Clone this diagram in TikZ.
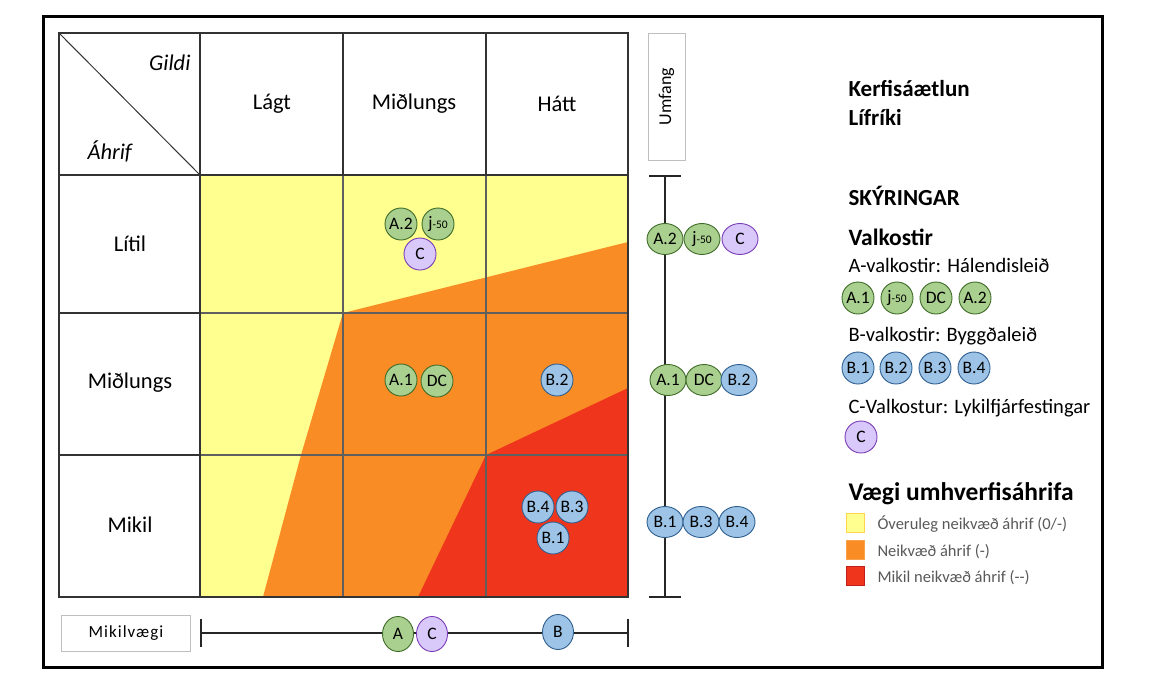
\documentclass[tikz,border=0pt]{standalone}
\usepackage{fontspec}
\setmainfont{Carlito}
\usetikzlibrary{shapes.geometric}
\definecolor{cyel}{HTML}{FFFF8F}
\definecolor{corange}{HTML}{F98C24}
\definecolor{cred}{HTML}{F0351D}
\definecolor{gfill}{HTML}{A9D08E}
\definecolor{gdraw}{HTML}{3F6B28}
\definecolor{bfill}{HTML}{9DC3E6}
\definecolor{bdraw}{HTML}{2E5F8F}
\definecolor{pfill}{HTML}{D9C8FA}
\definecolor{pdraw}{HTML}{7A3DB8}
\definecolor{gridc}{HTML}{5F5F5F}
\definecolor{boxgray}{HTML}{BFBFBF}
\definecolor{txtgray}{HTML}{595959}
\definecolor{ybord}{HTML}{FFD54F}
\definecolor{obord}{HTML}{F9A24A}
\definecolor{rbord}{HTML}{C0201A}
\begin{document}
\begin{tikzpicture}[x=1pt,y=-1pt,
  bub/.style={circle,minimum size=32pt,inner sep=0pt,line width=0.9pt,font=\fontsize{17.5}{17.5}\selectfont},
  gc/.style={bub,fill=gfill,draw=gdraw},
  bc/.style={bub,fill=bfill,draw=bdraw},
  pc/.style={bub,fill=pfill,draw=pdraw},
  ell/.style={ellipse,minimum width=36pt,minimum height=31pt,inner sep=0pt,line width=0.9pt,font=\fontsize{17.5}{17.5}\selectfont},
  ge/.style={ell,fill=gfill,draw=gdraw},
  be/.style={ell,fill=bfill,draw=bdraw},
  pe/.style={ell,fill=pfill,draw=pdraw},
  hell/.style={ellipse,minimum width=31pt,minimum height=35pt,inner sep=0pt,line width=0.9pt,font=\fontsize{17.5}{17.5}\selectfont},
  hge/.style={hell,fill=gfill,draw=gdraw},
  hbe/.style={hell,fill=bfill,draw=bdraw},
  hpe/.style={hell,fill=pfill,draw=pdraw},
  head/.style={font=\fontsize{22.5}{22.5}\selectfont},
  ital/.style={font=\fontsize{22.5}{22.5}\selectfont\itshape},
  legb/.style={anchor=base west,font=\fontsize{23}{23}\selectfont\bfseries},
  legr/.style={anchor=base west,font=\fontsize{20.5}{21}\selectfont},
  legs/.style={anchor=base west,text=txtgray,font=\fontsize{16.5}{17}\selectfont},
  axis/.style={line width=1.2pt,draw=black!85},
  grid/.style={line width=1.4pt,draw=gridc},
  hgrid/.style={line width=1.8pt,draw=black!80}
]
\useasboundingbox (0,0) rectangle (1150,696);
\fill[white] (0,0) rectangle (1150,696);
% outer frame
\draw[line width=3pt] (43,16) rectangle (1102,667);
% coloured zones
\fill[cyel] (200,175) rectangle (628,597);
\fill[corange] (263,597) -- (301,455) -- (343,313) -- (628,242) -- (628,597) -- cycle;
\fill[cred] (418,597) -- (486,455) -- (628,388) -- (628,597) -- cycle;
% grid inside coloured area
\foreach \x in {343,486} \draw[grid] (\x,175) -- (\x,597);
\foreach \y in {313,455} \draw[grid] (200,\y) -- (628,\y);
% header/label grid
\foreach \x in {200,343,486} \draw[hgrid] (\x,33) -- (\x,175);
\foreach \y in {175,313,455} \draw[hgrid] (59,\y) -- (200,\y);
\draw[hgrid] (200,175) -- (200,597);
\draw[hgrid] (59,175) -- (628,175);
\draw[hgrid] (59,33) rectangle (628,597);
\draw[line width=1pt,draw=black!80] (59,33) -- (200,175);
% header texts
\node[ital,anchor=east] (gildi) at (194,63) {Gildi};
\node[ital,anchor=west] (ahrif) at (84,151) {Áhrif};
\node[head] (h1) at (272,104) {Lágt};
\node[head] (h2) at (414,104) {Miðlungs};
\node[head] (h3) at (557,104) {Hátt};
\node[head] (r1) at (130,244) {Lítil};
\node[head] (r2) at (130,383) {Miðlungs};
\node[head] (r3) at (130,525) {Mikil};
% bubbles in matrix
\node[gc] (ma2) at (401,224) {A.2};
\node[gc] (mj50) at (438,224) {j{\fontsize{11.5}{11.5}\selectfont -50}};
\node[pc] (mc) at (420,254) {C};
\node[gc] (ma1) at (401,380) {A.1};
\node[gc] (mdc) at (437,381) {DC};
\node[bc] (mb2) at (557,380) {B.2};
\node[bc] (mb4) at (538,507) {B.4};
\node[bc] (mb3) at (572,507) {B.3};
\node[bc] (mb1) at (553,538) {B.1};
% Umfang axis
\node[draw=boxgray,line width=1pt,rotate=90,minimum width=127pt,minimum height=37pt,inner sep=0pt,font=\fontsize{18}{18}\selectfont] (umfang) at (666.5,96.5) {Umfang};
\coordinate (vt) at (665,176);
\coordinate (vb) at (665,597);
\draw[axis] (vt) -- (vb);
\draw[axis] ([xshift=-16pt]vt) -- ([xshift=16pt]vt);
\draw[axis] ([xshift=-16pt]vb) -- ([xshift=16pt]vb);
\node[ge] (va2) at (665,239) {A.2};
\node[ge] (vj50) at (702,239) {j{\fontsize{11.5}{11.5}\selectfont -50}};
\node[pe] (vc) at (740,239) {C};
\node[ge] (va1) at (668,380) {A.1};
\node[ge] (vdc) at (704,380) {DC};
\node[be] (vb2) at (739,380) {B.2};
\node[be] (vb1) at (665,522) {B.1};
\node[be] (vb3) at (701,522) {B.3};
\node[be] (vb4) at (737,522) {B.4};
% Mikilvaegi axis
\node[draw=boxgray,line width=1pt,minimum width=129pt,minimum height=36pt,inner sep=0pt,font=\fontsize{17}{17}\selectfont\addfontfeature{LetterSpace=6}] (mikil) at (126,633) {Mikilvægi};
\coordinate (hl) at (201,633);
\coordinate (hr) at (628,633);
\draw[axis] (hl) -- (hr);
\draw[axis] ([yshift=-14pt]hl) -- ([yshift=14pt]hl);
\draw[axis] ([yshift=-14pt]hr) -- ([yshift=14pt]hr);
\node[hge] (ha) at (398,634) {A};
\node[hpe] (hc) at (432,634) {C};
\node[hbe] (hb) at (558,632) {B};
% legend
\node[legb] (t1) at (845,96) {Kerfisáætlun};
\node[legb] (t2) at (845,125) {Lífríki};
\node[legb] (t3) at (845,205) {SKÝRINGAR};
\node[legb,font=\fontsize{23.5}{23.5}\selectfont\bfseries] (t4) at (845,245) {Valkostir};
\node[legr] (ta) at (845,272) {A-valkostir: Hálendisleið};
\node[gc] (la1) at (858,298) {A.1};
\node[gc] (lj50) at (897,298) {j{\fontsize{11.5}{11.5}\selectfont -50}};
\node[gc] (ldc) at (936,298) {DC};
\node[gc] (la2) at (975,298) {A.2};
\node[legr] (tb) at (845,341) {B-valkostir: Byggðaleið};
\node[bc] (lb1) at (858,368) {B.1};
\node[bc] (lb2) at (896,368) {B.2};
\node[bc] (lb3) at (935,368) {B.3};
\node[bc] (lb4) at (974,368) {B.4};
\node[legr] (tc) at (845,413) {C-Valkostur: Lykilfjárfestingar};
\node[pc] (lc) at (861,437) {C};
\node[legb,font=\fontsize{25.5}{25.5}\selectfont\bfseries] (t5) at (845,500) {Vægi umhverfisáhrifa};
\node[fill=cyel,draw=ybord,line width=1pt,minimum width=18pt,minimum height=19pt,inner sep=0pt] (sq1) at (855.5,523) {};
\node[fill=corange,draw=obord,line width=0.6pt,minimum width=18pt,minimum height=19pt,inner sep=0pt] (sq2) at (855.5,549.5) {};
\node[fill=cred,draw=rbord,line width=1pt,minimum width=18pt,minimum height=19pt,inner sep=0pt] (sq3) at (855.5,576) {};
\node[legs] (s1) at (874,529) {Óveruleg neikvæð áhrif (0/-)};
\node[legs] (s2) at (874,556) {Neikvæð áhrif (-)};
\node[legs] (s3) at (874,582) {Mikil neikvæð áhrif ({-}{-})};
\end{tikzpicture}
\end{document}
